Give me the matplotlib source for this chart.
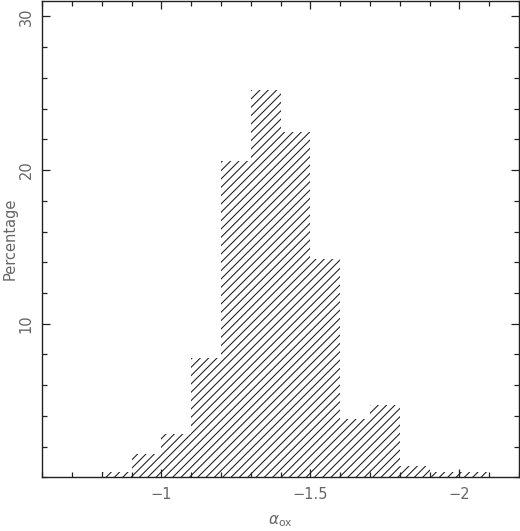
#!/usr/bin/env python3
"""Histogram of alpha_ox (percentage of sources per 0.1 bin), hatched bars."""

import matplotlib

matplotlib.use("Agg")
import matplotlib.pyplot as plt
from matplotlib.ticker import MultipleLocator, FixedLocator

# bin left edges (alpha_ox) and percentages
bin_starts = [-0.8, -0.9, -1.0, -1.1, -1.2, -1.3, -1.4, -1.5, -1.6, -1.7, -1.8, -1.9, -2.0]
percentages = [0.37, 1.5, 2.8, 7.8, 20.6, 25.2, 22.5, 14.2, 3.8, 4.7, 0.75, 0.37, 0.37]
bin_width = -0.1

x_ticks = [-1.0, -1.5, -2.0]
x_tick_labels = ["\u22121", "\u22121.5", "\u22122"]
y_ticks = [10, 20, 30]
y_tick_labels = ["10", "20", "30"]

TEXT_COLOR = "#666666"

plt.rcParams["hatch.linewidth"] = 0.75

fig = plt.figure(figsize=(5.20, 5.31), dpi=100)
ax = fig.add_axes([0.081, 0.101, 0.917, 0.897])

# linewidth 0: only the hatch is drawn, no bar outline
ax.bar(
    bin_starts,
    percentages,
    width=bin_width,
    align="edge",
    facecolor="none",
    edgecolor="#1a1a1a",
    linewidth=0,
    hatch="////",
)

ax.set_xlim(-0.6, -2.2)
ax.set_ylim(0, 31)

ax.xaxis.set_major_locator(FixedLocator(x_ticks))
ax.set_xticklabels(x_tick_labels)
ax.xaxis.set_minor_locator(MultipleLocator(0.1))
ax.yaxis.set_major_locator(FixedLocator(y_ticks))
ax.set_yticklabels(y_tick_labels, rotation=90, va="center")
ax.yaxis.set_minor_locator(MultipleLocator(2))

ax.tick_params(which="both", direction="in", top=True, right=True,
               colors="#222222", labelcolor=TEXT_COLOR, labelsize=10.5)
ax.tick_params(which="major", length=6, width=0.9)
ax.tick_params(which="minor", length=3.5, width=0.9)
ax.tick_params(axis="x", pad=7)
ax.tick_params(axis="y", pad=6)

for spine in ax.spines.values():
    spine.set_linewidth(1.0)
    spine.set_color("#222222")

ax.set_xlabel(r"$\alpha_{\rm ox}$", color=TEXT_COLOR, fontsize=11, labelpad=8)
ax.set_ylabel("Percentage", color=TEXT_COLOR, fontsize=10.5)
ax.yaxis.set_label_coords(-0.052, 0.5)

fig.savefig("out.png", dpi=100)
plt.close(fig)
